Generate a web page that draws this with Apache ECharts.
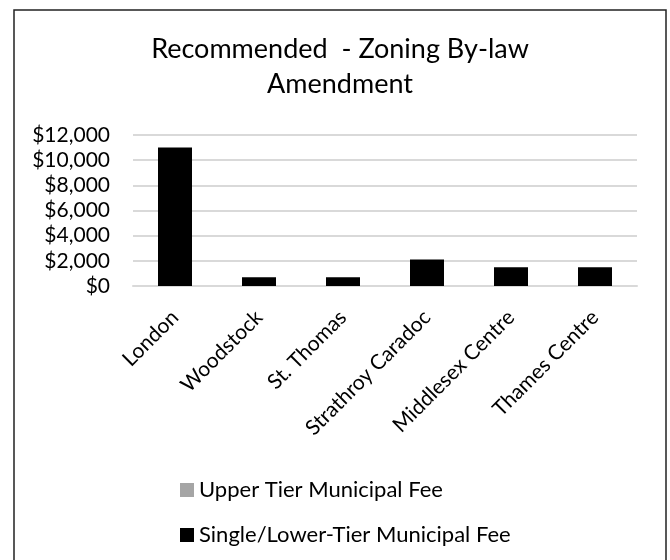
<!DOCTYPE html>
<html>
<head>
<meta charset="utf-8">
<script src="https://cdn.jsdelivr.net/npm/echarts@6/dist/echarts.min.js"></script>
<style>
  html, body { margin: 0; padding: 0; background: #fff; }
  #chart { width: 670px; height: 560px; }
</style>
</head>
<body>
<div id="chart"></div>
<script>
var categories = ['London', 'Woodstock', 'St. Thomas', 'Strathroy Caradoc', 'Middlesex Centre', 'Thames Centre'];
var upperTierFee = [0, 0, 0, 0, 0, 0];
var lowerTierFee = [11000, 700, 700, 2100, 1500, 1500];
var seriesNames = ['Upper Tier Municipal Fee', 'Single/Lower-Tier Municipal Fee'];

var font = 'Lato';
var chart = echarts.init(document.getElementById('chart'));
var option = {
    backgroundColor: '#fff',
    animation: false,
    title: {
        text: 'Recommended  - Zoning By-law\nAmendment',
        left: 335,
        textAlign: 'center',
        top: 27,
        textStyle: {
            fontFamily: font,
            fontWeight: 'normal',
            fontSize: 27,
            lineHeight: 35,
            color: '#000'
        }
    },
    legend: {
        orient: 'vertical',
        left: 175,
        top: 474,
        itemWidth: 14,
        itemHeight: 14,
        itemGap: 23,
        icon: 'rect',
        data: seriesNames,
        textStyle: { fontFamily: font, fontSize: 22, color: '#000' }
    },
    grid: { left: 133, right: 33, top: 135, bottom: 274 },
    xAxis: {
        type: 'category',
        data: categories,
        axisLine: { lineStyle: { color: '#d9d9d9', width: 2 } },
        axisTick: { show: false },
        axisLabel: {
            rotate: 45,
            interval: 0,
            margin: 28,
            fontFamily: font,
            fontSize: 21,
            color: '#000'
        }
    },
    yAxis: {
        type: 'value',
        min: 0,
        max: 12000,
        interval: 2000,
        axisLine: { show: false },
        axisTick: { show: false },
        splitLine: { lineStyle: { color: '#d9d9d9', width: 2 } },
        axisLabel: {
            margin: 23,
            fontFamily: font,
            fontSize: 21,
            color: '#000',
            formatter: function (v) { return '$' + v.toLocaleString('en-US'); }
        }
    },
    graphic: [{
        type: 'rect',
        shape: { x: 14, y: 10, width: 652, height: 560 },
        style: { fill: 'none', stroke: '#222', lineWidth: 1.5 },
        silent: true
    }],
    series: [{
        name: seriesNames[0],
        type: 'bar',
        stack: 'fee',
        barWidth: 34,
        itemStyle: { color: '#a5a5a5' },
        data: upperTierFee
    }, {
        name: seriesNames[1],
        type: 'bar',
        stack: 'fee',
        barWidth: 34,
        itemStyle: { color: '#000' },
        data: lowerTierFee
    }]
};
chart.setOption(option);
</script>
</body>
</html>
